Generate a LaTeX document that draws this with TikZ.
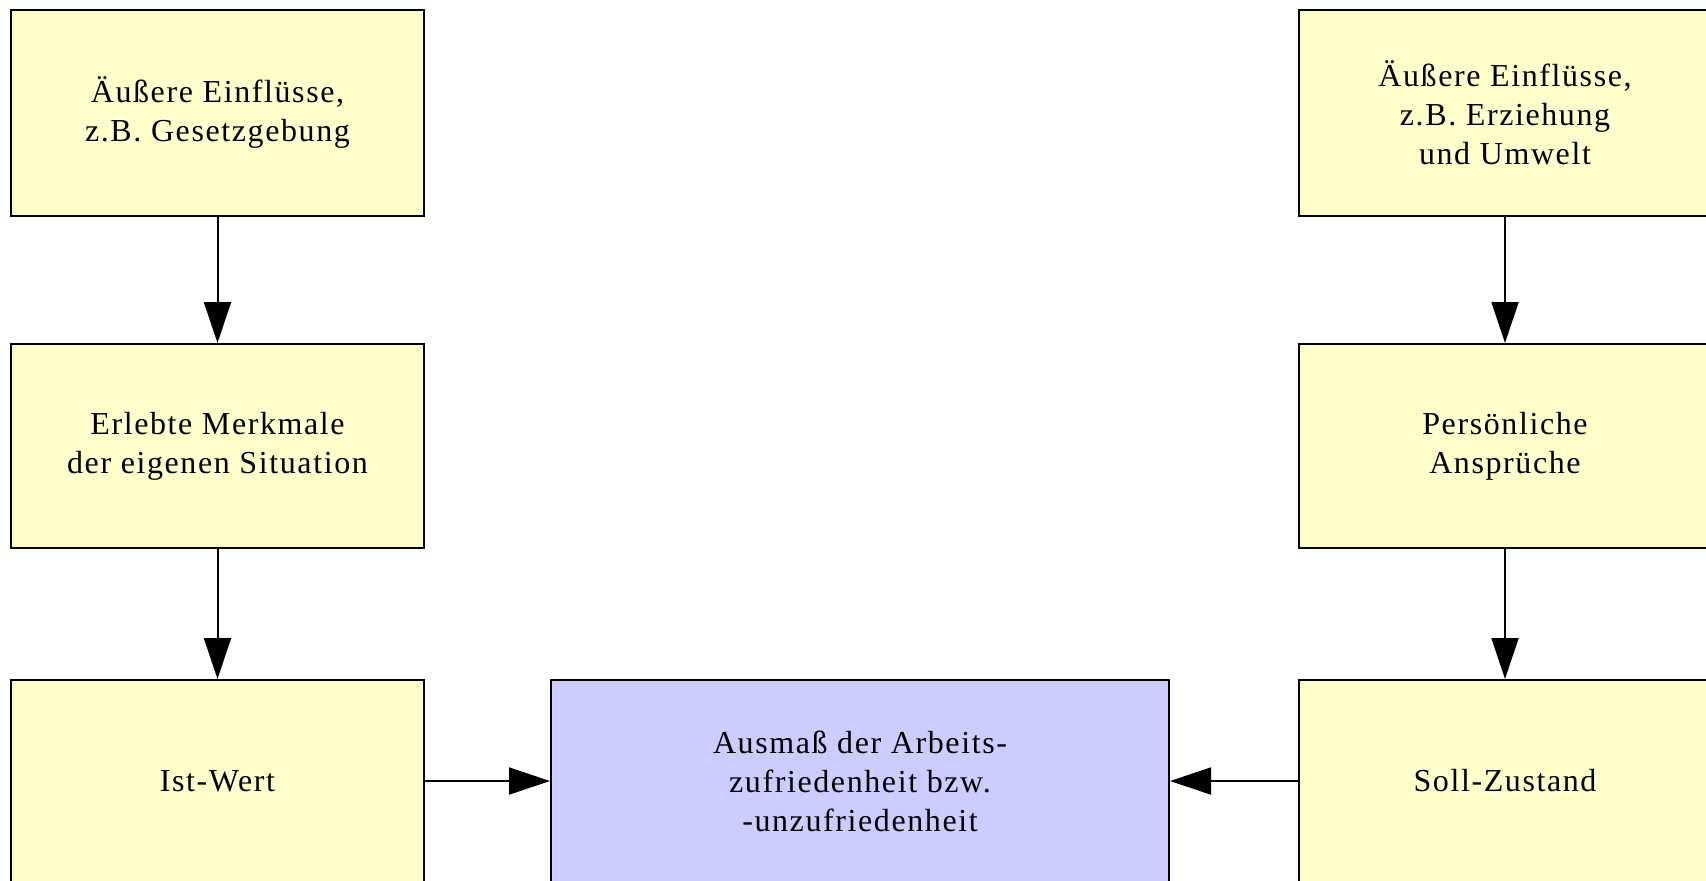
\documentclass[tikz,border=0pt]{standalone}
\usepackage{fontspec}
\setmainfont{Liberation Serif}[LetterSpace=5]
\usetikzlibrary{arrows.meta}

\definecolor{boxyellow}{RGB}{255,255,204}
\definecolor{boxblue}{RGB}{204,204,255}

\tikzset{
  box/.style={draw=black, line width=1pt, fill=boxyellow, align=center,
    minimum width=206.5pt, minimum height=103pt, inner sep=0pt,
    font=\fontsize{16}{19.5}\selectfont},
  flow/.style={line width=1pt, -{Triangle[length=20.5pt,width=13.5pt]}}
}

\begin{document}
\begin{tikzpicture}[x=0.5pt,y=-0.5pt]

\useasboundingbox (0,0) rectangle (1706,880);
\clip (0,0) rectangle (1706,880);

% left column
\node [box] (einfluss1) at (217.5,112.5) {Äußere Einflüsse,\\z.B. Gesetzgebung};
\node [box, minimum height=102pt] (merkmale) at (217.5,446) {Erlebte Merkmale\\der eigenen Situation};
\node [box, minimum height=101pt] (istwert) at (217.5,781) {Ist-Wert};

% right column
\node [box] (einfluss2) at (1505,112.5) {Äußere Einflüsse,\\z.B. Erziehung\\und Umwelt};
\node [box, minimum height=102pt] (ansprueche) at (1505,446) {Persönliche\\Ansprüche};
\node [box, minimum height=101pt] (sollzustand) at (1505,781) {Soll-Zustand};

% middle
\node [box, fill=boxblue, minimum width=309pt, minimum height=101pt] (ausmass) at (860,781)
  {Ausmaß der Arbeits-\\zufriedenheit bzw.\\-unzufriedenheit};

\draw [flow] (einfluss1) -- (merkmale);
\draw [flow] (merkmale) -- (istwert);
\draw [flow] (einfluss2) -- (ansprueche);
\draw [flow] (ansprueche) -- (sollzustand);
\draw [flow] (istwert) -- (ausmass);
\draw [flow] (sollzustand) -- (ausmass);

\end{tikzpicture}
\end{document}
